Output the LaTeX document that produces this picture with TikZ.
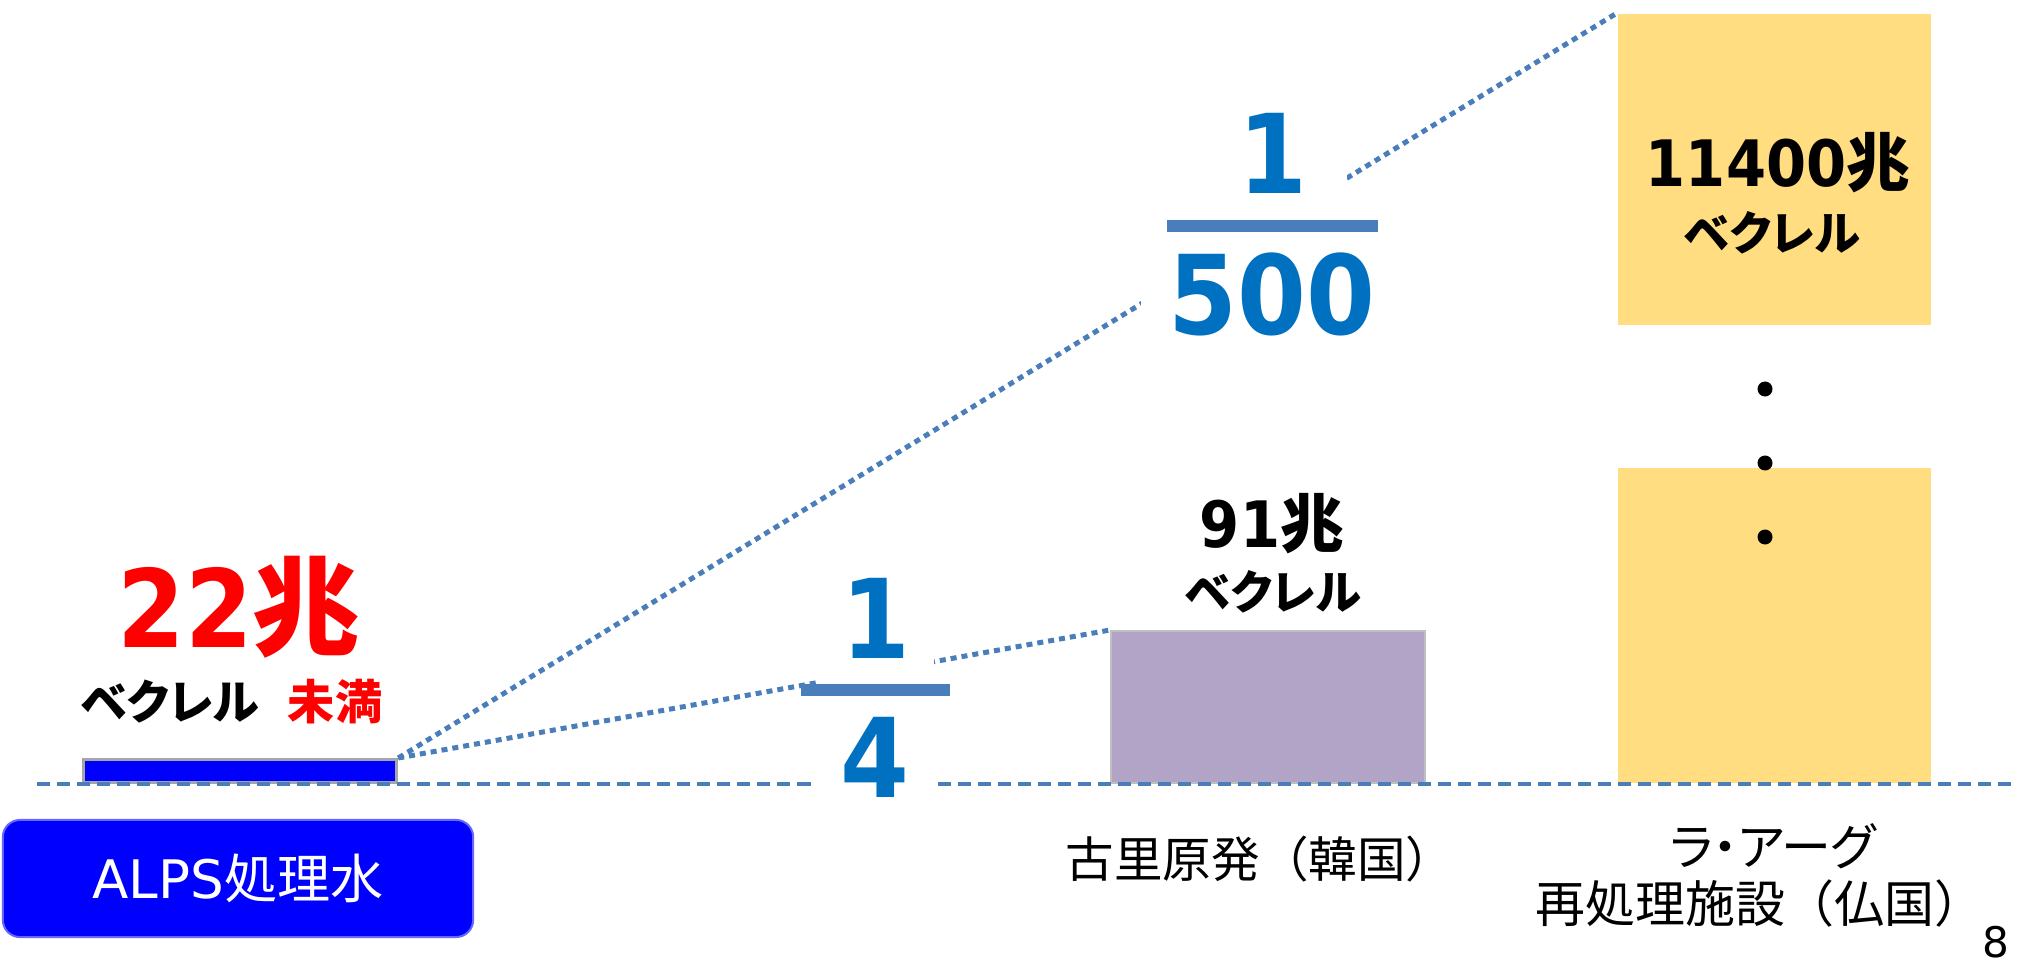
\documentclass[tikz,border=0pt]{standalone}
\usepackage{fontspec}
\setmainfont{DejaVu Sans}
\newfontfamily\jpfont{Noto Sans CJK JP}
\newfontfamily\kanafont[RawFeature=+palt]{Noto Sans CJK JP}
\newfontfamily\numfont[FakeStretch=0.9]{DejaVu Sans}
\definecolor{lineblue}{HTML}{4A7EBB}
\definecolor{fracblue}{HTML}{0070C0}
\definecolor{alpsblue}{HTML}{0000FF}
\definecolor{koripurple}{HTML}{B2A4C7}
\definecolor{hagueyellow}{HTML}{FFDD80}

\begin{document}
\begin{tikzpicture}[x=0.01cm,y=-0.01cm,
  box/.style={rectangle,inner sep=0pt,anchor=north west},
  txt/.style={inner sep=0pt,anchor=base},
  dotline/.style={lineblue,line width=0.05cm,dash pattern=on 0.06cm off 0.05cm},
  groundline/.style={lineblue,line width=0.035cm,dash pattern=on 0.13cm off 0.07cm},
  mask/.style={rectangle,fill=white,inner sep=0pt},
  fracbar/.style={rectangle,fill=lineblue,inner sep=0pt,minimum height=0.12cm},
  frac/.style={txt,fracblue,font=\numfont\bfseries\fontsize{31.3}{33}\selectfont},
  big/.style={txt,font=\bfseries\fontsize{30.7}{33}\selectfont},
  mid/.style={txt,font=\bfseries\fontsize{18.2}{20}\selectfont},
  unit/.style={txt,font=\kanafont\bfseries\fontsize{13.2}{15}\selectfont},
  label/.style={txt,font=\jpfont\fontsize{14.2}{16}\selectfont},
  dot/.style={circle,fill=black,inner sep=0pt,minimum size=0.15cm}]
\useasboundingbox (0,0) rectangle (2019,967);

\node[box,fill=alpsblue,draw=gray!70,line width=0.03cm,minimum width=3.13cm,minimum height=0.23cm] (alps) at (82,758) {};
\node[box,fill=koripurple,draw=gray!50,line width=0.02cm,minimum width=3.14cm,minimum height=1.52cm] (kori) at (1110,630) {};
\node[box,fill=hagueyellow,minimum width=3.13cm,minimum height=3.11cm] (hague) at (1617,13) {};
\node[box,fill=hagueyellow,minimum width=3.13cm,minimum height=3.15cm] (hague2) at (1617,467) {};
\foreach \y [count=\i] in {389,463,537}
  \node[dot] (d\i) at (1765,\y) {};

\draw[dotline] (alps.north east) -- (kori.north west);
\draw[dotline] (alps.north east) -- (hague.north west);
\coordinate (g0) at (37,784);
\coordinate (g1) at (2012,784);
\draw[groundline] (g0) -- (g1);

\node[mask,minimum width=1.15cm,minimum height=2.4cm] (m4) at (876,690) {};
\node[mask,minimum width=2.06cm,minimum height=2.6cm] (m500) at (1244,226) {};
\node[fracbar,minimum width=1.49cm] (bar4) at (875.5,690) {};
\node[fracbar,minimum width=2.11cm] (bar500) at (1272.5,226) {};
\node[frac] (n4) at (876,658) {1};
\node[frac] (d4) at (875,797) {4};
\node[frac] (n500) at (1273,194) {1};
\node[frac] (d500) at (1272,334) {500};

\node[big,red] (v22) at (239,647) {{\numfont 22}{\jpfont 兆}};
\node[unit,font=\kanafont\bfseries\fontsize{13.4}{15}\selectfont] (u22) at (170,719) {ベクレル};
\node[unit,red,font=\jpfont\bfseries\fontsize{13.4}{15}\selectfont] (lt22) at (335,719) {未満};
\node[mid] (v91) at (1272,547) {{\numfont 91}{\jpfont 兆}};
\node[unit] (u91) at (1273,609) {ベクレル};
\node[mid] (v11400) at (1778,187) {{\numfont 11400}{\jpfont 兆}};
\node[unit] (u11400) at (1772,251) {ベクレル};

\node[rectangle,rounded corners=0.17cm,fill=alpsblue,draw=alpsblue!60!white,line width=0.02cm,minimum width=4.7cm,minimum height=1.17cm,text=white,font=\fontsize{15.1}{17}\selectfont] (alpslabel) at (238,878.5) {ALPS{\jpfont 処理水}};
\node[label,font=\jpfont\fontsize{13.8}{16}\selectfont] (korilabel) at (1260,877) {古里原発（韓国）};
\node[label,font=\kanafont\fontsize{14.2}{16}\selectfont] (haguelabel) at (1773,865) {ラ・アーグ};
\node[label] (haguelabel2) at (1760,922) {再処理施設（仏国）};
\node[txt,font=\fontsize{12}{14}\selectfont] (page) at (1996,957) {8};
\end{tikzpicture}
\end{document}
